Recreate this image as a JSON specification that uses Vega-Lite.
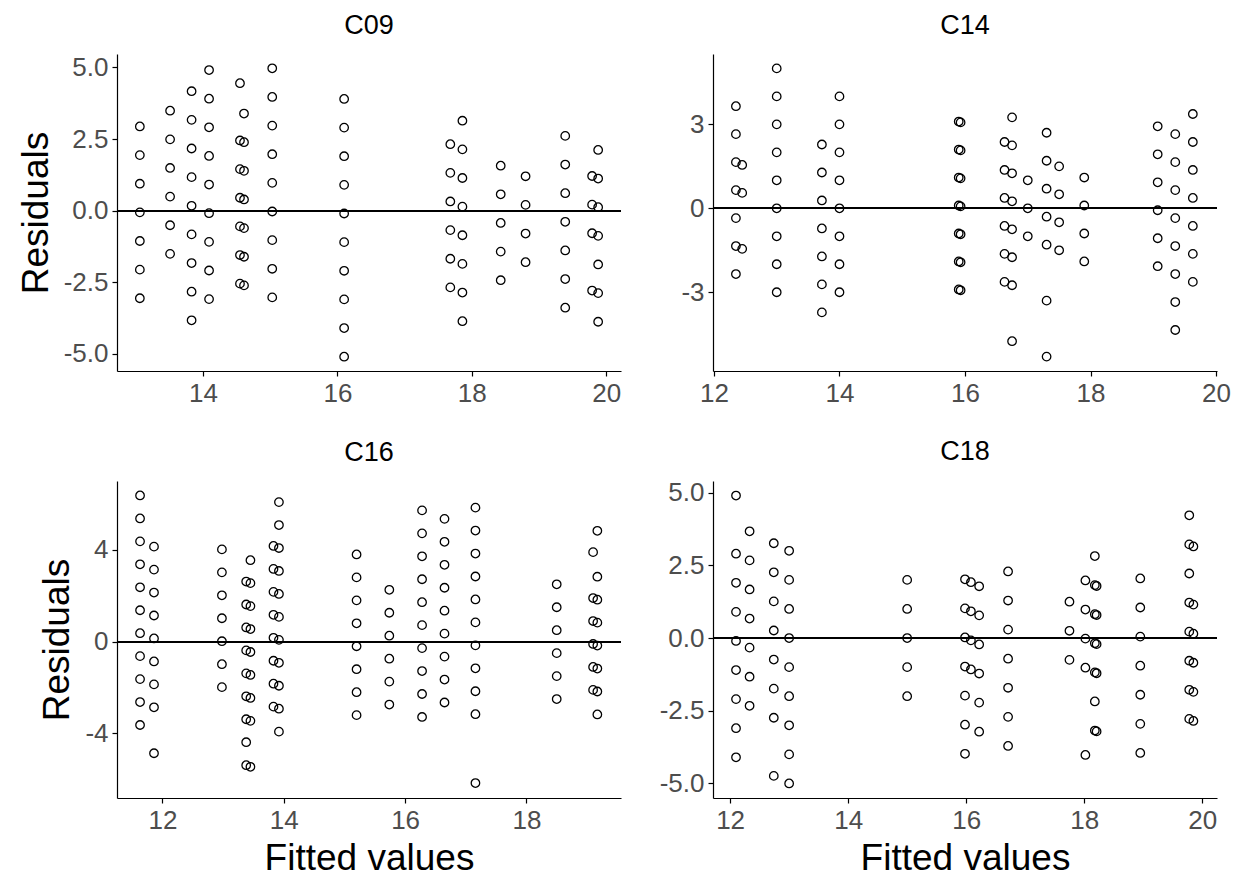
{
  "$schema": "https://vega.github.io/schema/vega-lite/v6.json",
  "background": "white",
  "padding": {"left": 17, "top": 12, "right": 5, "bottom": 5},
  "datasets": {
    "resid": [
      {"p":"C09","f":13.06,"r":2.94},{"p":"C09","f":13.06,"r":1.94},{"p":"C09","f":13.06,"r":0.94},{"p":"C09","f":13.06,"r":-0.06},{"p":"C09","f":13.06,"r":-1.06},{"p":"C09","f":13.06,"r":-2.06},{"p":"C09","f":13.06,"r":-3.06},
      {"p":"C09","f":13.51,"r":3.49},{"p":"C09","f":13.51,"r":2.49},{"p":"C09","f":13.51,"r":1.49},{"p":"C09","f":13.51,"r":0.49},{"p":"C09","f":13.51,"r":-0.51},{"p":"C09","f":13.51,"r":-1.51},
      {"p":"C09","f":13.83,"r":4.17},{"p":"C09","f":13.83,"r":3.17},{"p":"C09","f":13.83,"r":2.17},{"p":"C09","f":13.83,"r":1.17},{"p":"C09","f":13.83,"r":0.17},{"p":"C09","f":13.83,"r":-0.83},{"p":"C09","f":13.83,"r":-1.83},{"p":"C09","f":13.83,"r":-2.83},{"p":"C09","f":13.83,"r":-3.83},
      {"p":"C09","f":14.09,"r":4.91},{"p":"C09","f":14.09,"r":3.91},{"p":"C09","f":14.09,"r":2.91},{"p":"C09","f":14.09,"r":1.91},{"p":"C09","f":14.09,"r":0.91},{"p":"C09","f":14.09,"r":-0.09},{"p":"C09","f":14.09,"r":-1.09},{"p":"C09","f":14.09,"r":-2.09},{"p":"C09","f":14.09,"r":-3.09},
      {"p":"C09","f":14.55,"r":4.45},{"p":"C09","f":14.55,"r":2.45},{"p":"C09","f":14.55,"r":1.45},{"p":"C09","f":14.55,"r":0.45},{"p":"C09","f":14.55,"r":-0.55},{"p":"C09","f":14.55,"r":-1.55},{"p":"C09","f":14.55,"r":-2.55},
      {"p":"C09","f":14.61,"r":3.39},{"p":"C09","f":14.61,"r":2.39},{"p":"C09","f":14.61,"r":1.39},{"p":"C09","f":14.61,"r":0.39},{"p":"C09","f":14.61,"r":-0.61},{"p":"C09","f":14.61,"r":-1.61},{"p":"C09","f":14.61,"r":-2.61},
      {"p":"C09","f":15.03,"r":4.97},{"p":"C09","f":15.03,"r":3.97},{"p":"C09","f":15.03,"r":2.97},{"p":"C09","f":15.03,"r":1.97},{"p":"C09","f":15.03,"r":0.97},{"p":"C09","f":15.03,"r":-0.03},{"p":"C09","f":15.03,"r":-1.03},{"p":"C09","f":15.03,"r":-2.03},{"p":"C09","f":15.03,"r":-3.03},
      {"p":"C09","f":16.1,"r":3.9},{"p":"C09","f":16.1,"r":2.9},{"p":"C09","f":16.1,"r":1.9},{"p":"C09","f":16.1,"r":0.9},{"p":"C09","f":16.1,"r":-0.1},{"p":"C09","f":16.1,"r":-1.1},{"p":"C09","f":16.1,"r":-2.1},{"p":"C09","f":16.1,"r":-3.1},{"p":"C09","f":16.1,"r":-4.1},{"p":"C09","f":16.1,"r":-5.1},
      {"p":"C09","f":17.68,"r":2.32},{"p":"C09","f":17.68,"r":1.32},{"p":"C09","f":17.68,"r":0.32},{"p":"C09","f":17.68,"r":-0.68},{"p":"C09","f":17.68,"r":-1.68},{"p":"C09","f":17.68,"r":-2.68},
      {"p":"C09","f":17.86,"r":3.14},{"p":"C09","f":17.86,"r":2.14},{"p":"C09","f":17.86,"r":1.14},{"p":"C09","f":17.86,"r":0.14},{"p":"C09","f":17.86,"r":-0.86},{"p":"C09","f":17.86,"r":-1.86},{"p":"C09","f":17.86,"r":-2.86},{"p":"C09","f":17.86,"r":-3.86},
      {"p":"C09","f":18.43,"r":1.57},{"p":"C09","f":18.43,"r":0.57},{"p":"C09","f":18.43,"r":-0.43},{"p":"C09","f":18.43,"r":-1.43},{"p":"C09","f":18.43,"r":-2.43},
      {"p":"C09","f":18.8,"r":1.2},{"p":"C09","f":18.8,"r":0.2},{"p":"C09","f":18.8,"r":-0.8},{"p":"C09","f":18.8,"r":-1.8},
      {"p":"C09","f":19.39,"r":2.61},{"p":"C09","f":19.39,"r":1.61},{"p":"C09","f":19.39,"r":0.61},{"p":"C09","f":19.39,"r":-0.39},{"p":"C09","f":19.39,"r":-1.39},{"p":"C09","f":19.39,"r":-2.39},{"p":"C09","f":19.39,"r":-3.39},
      {"p":"C09","f":19.79,"r":1.21},{"p":"C09","f":19.79,"r":0.21},{"p":"C09","f":19.79,"r":-0.79},{"p":"C09","f":19.79,"r":-2.79},
      {"p":"C09","f":19.88,"r":2.12},{"p":"C09","f":19.88,"r":1.12},{"p":"C09","f":19.88,"r":0.12},{"p":"C09","f":19.88,"r":-0.88},{"p":"C09","f":19.88,"r":-1.88},{"p":"C09","f":19.88,"r":-2.88},{"p":"C09","f":19.88,"r":-3.88},

      {"p":"C14","f":12.35,"r":3.65},{"p":"C14","f":12.35,"r":2.65},{"p":"C14","f":12.35,"r":1.65},{"p":"C14","f":12.35,"r":0.65},{"p":"C14","f":12.35,"r":-0.35},{"p":"C14","f":12.35,"r":-1.35},{"p":"C14","f":12.35,"r":-2.35},
      {"p":"C14","f":12.45,"r":1.55},{"p":"C14","f":12.45,"r":0.55},{"p":"C14","f":12.45,"r":-1.45},
      {"p":"C14","f":13.0,"r":5},{"p":"C14","f":13.0,"r":4},{"p":"C14","f":13.0,"r":3},{"p":"C14","f":13.0,"r":2},{"p":"C14","f":13.0,"r":1},{"p":"C14","f":13.0,"r":0},{"p":"C14","f":13.0,"r":-1},{"p":"C14","f":13.0,"r":-2},{"p":"C14","f":13.0,"r":-3},
      {"p":"C14","f":13.72,"r":2.28},{"p":"C14","f":13.72,"r":1.28},{"p":"C14","f":13.72,"r":0.28},{"p":"C14","f":13.72,"r":-0.72},{"p":"C14","f":13.72,"r":-1.72},{"p":"C14","f":13.72,"r":-2.72},{"p":"C14","f":13.72,"r":-3.72},
      {"p":"C14","f":14.0,"r":4},{"p":"C14","f":14.0,"r":3},{"p":"C14","f":14.0,"r":2},{"p":"C14","f":14.0,"r":1},{"p":"C14","f":14.0,"r":0},{"p":"C14","f":14.0,"r":-1},{"p":"C14","f":14.0,"r":-2},{"p":"C14","f":14.0,"r":-3},
      {"p":"C14","f":15.9,"r":3.1},{"p":"C14","f":15.9,"r":2.1},{"p":"C14","f":15.9,"r":1.1},{"p":"C14","f":15.9,"r":0.1},{"p":"C14","f":15.9,"r":-0.9},{"p":"C14","f":15.9,"r":-1.9},{"p":"C14","f":15.9,"r":-2.9},
      {"p":"C14","f":15.93,"r":3.07},{"p":"C14","f":15.93,"r":2.07},{"p":"C14","f":15.93,"r":1.07},{"p":"C14","f":15.93,"r":0.07},{"p":"C14","f":15.93,"r":-0.93},{"p":"C14","f":15.93,"r":-1.93},{"p":"C14","f":15.93,"r":-2.93},
      {"p":"C14","f":16.63,"r":2.37},{"p":"C14","f":16.63,"r":1.37},{"p":"C14","f":16.63,"r":0.37},{"p":"C14","f":16.63,"r":-0.63},{"p":"C14","f":16.63,"r":-1.63},{"p":"C14","f":16.63,"r":-2.63},
      {"p":"C14","f":16.75,"r":3.25},{"p":"C14","f":16.75,"r":2.25},{"p":"C14","f":16.75,"r":1.25},{"p":"C14","f":16.75,"r":0.25},{"p":"C14","f":16.75,"r":-0.75},{"p":"C14","f":16.75,"r":-1.75},{"p":"C14","f":16.75,"r":-2.75},{"p":"C14","f":16.75,"r":-4.75},
      {"p":"C14","f":17.0,"r":1},{"p":"C14","f":17.0,"r":0},{"p":"C14","f":17.0,"r":-1},
      {"p":"C14","f":17.3,"r":2.7},{"p":"C14","f":17.3,"r":1.7},{"p":"C14","f":17.3,"r":0.7},{"p":"C14","f":17.3,"r":-0.3},{"p":"C14","f":17.3,"r":-1.3},{"p":"C14","f":17.3,"r":-3.3},{"p":"C14","f":17.3,"r":-5.3},
      {"p":"C14","f":17.5,"r":1.5},{"p":"C14","f":17.5,"r":0.5},{"p":"C14","f":17.5,"r":-0.5},{"p":"C14","f":17.5,"r":-1.5},
      {"p":"C14","f":17.9,"r":1.1},{"p":"C14","f":17.9,"r":0.1},{"p":"C14","f":17.9,"r":-0.9},{"p":"C14","f":17.9,"r":-1.9},
      {"p":"C14","f":19.07,"r":2.93},{"p":"C14","f":19.07,"r":1.93},{"p":"C14","f":19.07,"r":0.93},{"p":"C14","f":19.07,"r":-0.07},{"p":"C14","f":19.07,"r":-1.07},{"p":"C14","f":19.07,"r":-2.07},
      {"p":"C14","f":19.35,"r":2.65},{"p":"C14","f":19.35,"r":1.65},{"p":"C14","f":19.35,"r":0.65},{"p":"C14","f":19.35,"r":-0.35},{"p":"C14","f":19.35,"r":-1.35},{"p":"C14","f":19.35,"r":-2.35},{"p":"C14","f":19.35,"r":-3.35},{"p":"C14","f":19.35,"r":-4.35},
      {"p":"C14","f":19.63,"r":3.37},{"p":"C14","f":19.63,"r":2.37},{"p":"C14","f":19.63,"r":1.37},{"p":"C14","f":19.63,"r":0.37},{"p":"C14","f":19.63,"r":-0.63},{"p":"C14","f":19.63,"r":-1.63},{"p":"C14","f":19.63,"r":-2.63},

      {"p":"C16","f":11.63,"r":6.37},{"p":"C16","f":11.63,"r":5.37},{"p":"C16","f":11.63,"r":4.37},{"p":"C16","f":11.63,"r":3.37},{"p":"C16","f":11.63,"r":2.37},{"p":"C16","f":11.63,"r":1.37},{"p":"C16","f":11.63,"r":0.37},{"p":"C16","f":11.63,"r":-0.63},{"p":"C16","f":11.63,"r":-1.63},{"p":"C16","f":11.63,"r":-2.63},{"p":"C16","f":11.63,"r":-3.63},
      {"p":"C16","f":11.86,"r":4.14},{"p":"C16","f":11.86,"r":3.14},{"p":"C16","f":11.86,"r":2.14},{"p":"C16","f":11.86,"r":1.14},{"p":"C16","f":11.86,"r":0.14},{"p":"C16","f":11.86,"r":-0.86},{"p":"C16","f":11.86,"r":-1.86},{"p":"C16","f":11.86,"r":-2.86},{"p":"C16","f":11.86,"r":-4.86},
      {"p":"C16","f":12.98,"r":4.02},{"p":"C16","f":12.98,"r":3.02},{"p":"C16","f":12.98,"r":2.02},{"p":"C16","f":12.98,"r":1.02},{"p":"C16","f":12.98,"r":0.02},{"p":"C16","f":12.98,"r":-0.98},{"p":"C16","f":12.98,"r":-1.98},
      {"p":"C16","f":13.38,"r":2.62},{"p":"C16","f":13.38,"r":1.62},{"p":"C16","f":13.38,"r":0.62},{"p":"C16","f":13.38,"r":-0.38},{"p":"C16","f":13.38,"r":-1.38},{"p":"C16","f":13.38,"r":-2.38},{"p":"C16","f":13.38,"r":-3.38},{"p":"C16","f":13.38,"r":-4.38},{"p":"C16","f":13.38,"r":-5.38},
      {"p":"C16","f":13.45,"r":3.55},{"p":"C16","f":13.45,"r":2.55},{"p":"C16","f":13.45,"r":1.55},{"p":"C16","f":13.45,"r":0.55},{"p":"C16","f":13.45,"r":-0.45},{"p":"C16","f":13.45,"r":-1.45},{"p":"C16","f":13.45,"r":-2.45},{"p":"C16","f":13.45,"r":-3.45},{"p":"C16","f":13.45,"r":-5.45},
      {"p":"C16","f":13.83,"r":4.17},{"p":"C16","f":13.83,"r":3.17},{"p":"C16","f":13.83,"r":2.17},{"p":"C16","f":13.83,"r":1.17},{"p":"C16","f":13.83,"r":0.17},{"p":"C16","f":13.83,"r":-0.83},{"p":"C16","f":13.83,"r":-1.83},{"p":"C16","f":13.83,"r":-2.83},
      {"p":"C16","f":13.92,"r":6.08},{"p":"C16","f":13.92,"r":5.08},{"p":"C16","f":13.92,"r":4.08},{"p":"C16","f":13.92,"r":3.08},{"p":"C16","f":13.92,"r":2.08},{"p":"C16","f":13.92,"r":1.08},{"p":"C16","f":13.92,"r":0.08},{"p":"C16","f":13.92,"r":-0.92},{"p":"C16","f":13.92,"r":-1.92},{"p":"C16","f":13.92,"r":-2.92},{"p":"C16","f":13.92,"r":-3.92},
      {"p":"C16","f":15.2,"r":3.8},{"p":"C16","f":15.2,"r":2.8},{"p":"C16","f":15.2,"r":1.8},{"p":"C16","f":15.2,"r":0.8},{"p":"C16","f":15.2,"r":-0.2},{"p":"C16","f":15.2,"r":-1.2},{"p":"C16","f":15.2,"r":-2.2},{"p":"C16","f":15.2,"r":-3.2},
      {"p":"C16","f":15.74,"r":2.26},{"p":"C16","f":15.74,"r":1.26},{"p":"C16","f":15.74,"r":0.26},{"p":"C16","f":15.74,"r":-0.74},{"p":"C16","f":15.74,"r":-1.74},{"p":"C16","f":15.74,"r":-2.74},
      {"p":"C16","f":16.28,"r":5.72},{"p":"C16","f":16.28,"r":4.72},{"p":"C16","f":16.28,"r":3.72},{"p":"C16","f":16.28,"r":2.72},{"p":"C16","f":16.28,"r":1.72},{"p":"C16","f":16.28,"r":0.72},{"p":"C16","f":16.28,"r":-0.28},{"p":"C16","f":16.28,"r":-1.28},{"p":"C16","f":16.28,"r":-2.28},{"p":"C16","f":16.28,"r":-3.28},
      {"p":"C16","f":16.65,"r":5.35},{"p":"C16","f":16.65,"r":4.35},{"p":"C16","f":16.65,"r":3.35},{"p":"C16","f":16.65,"r":2.35},{"p":"C16","f":16.65,"r":1.35},{"p":"C16","f":16.65,"r":0.35},{"p":"C16","f":16.65,"r":-0.65},{"p":"C16","f":16.65,"r":-1.65},{"p":"C16","f":16.65,"r":-2.65},
      {"p":"C16","f":17.16,"r":5.84},{"p":"C16","f":17.16,"r":4.84},{"p":"C16","f":17.16,"r":3.84},{"p":"C16","f":17.16,"r":2.84},{"p":"C16","f":17.16,"r":1.84},{"p":"C16","f":17.16,"r":0.84},{"p":"C16","f":17.16,"r":-0.16},{"p":"C16","f":17.16,"r":-1.16},{"p":"C16","f":17.16,"r":-2.16},{"p":"C16","f":17.16,"r":-3.16},{"p":"C16","f":17.16,"r":-6.16},
      {"p":"C16","f":18.5,"r":2.5},{"p":"C16","f":18.5,"r":1.5},{"p":"C16","f":18.5,"r":0.5},{"p":"C16","f":18.5,"r":-0.5},{"p":"C16","f":18.5,"r":-1.5},{"p":"C16","f":18.5,"r":-2.5},
      {"p":"C16","f":19.1,"r":3.9},{"p":"C16","f":19.1,"r":1.9},{"p":"C16","f":19.1,"r":0.9},{"p":"C16","f":19.1,"r":-0.1},{"p":"C16","f":19.1,"r":-1.1},{"p":"C16","f":19.1,"r":-2.1},
      {"p":"C16","f":19.17,"r":4.83},{"p":"C16","f":19.17,"r":2.83},{"p":"C16","f":19.17,"r":1.83},{"p":"C16","f":19.17,"r":0.83},{"p":"C16","f":19.17,"r":-0.17},{"p":"C16","f":19.17,"r":-1.17},{"p":"C16","f":19.17,"r":-2.17},{"p":"C16","f":19.17,"r":-3.17},

      {"p":"C18","f":12.1,"r":4.9},{"p":"C18","f":12.1,"r":2.9},{"p":"C18","f":12.1,"r":1.9},{"p":"C18","f":12.1,"r":0.9},{"p":"C18","f":12.1,"r":-0.1},{"p":"C18","f":12.1,"r":-1.1},{"p":"C18","f":12.1,"r":-2.1},{"p":"C18","f":12.1,"r":-3.1},{"p":"C18","f":12.1,"r":-4.1},
      {"p":"C18","f":12.33,"r":3.67},{"p":"C18","f":12.33,"r":2.67},{"p":"C18","f":12.33,"r":1.67},{"p":"C18","f":12.33,"r":0.67},{"p":"C18","f":12.33,"r":-0.33},{"p":"C18","f":12.33,"r":-1.33},{"p":"C18","f":12.33,"r":-2.33},
      {"p":"C18","f":12.74,"r":3.26},{"p":"C18","f":12.74,"r":2.26},{"p":"C18","f":12.74,"r":1.26},{"p":"C18","f":12.74,"r":0.26},{"p":"C18","f":12.74,"r":-0.74},{"p":"C18","f":12.74,"r":-1.74},{"p":"C18","f":12.74,"r":-2.74},{"p":"C18","f":12.74,"r":-4.74},
      {"p":"C18","f":13.0,"r":3},{"p":"C18","f":13.0,"r":2},{"p":"C18","f":13.0,"r":1},{"p":"C18","f":13.0,"r":0},{"p":"C18","f":13.0,"r":-1},{"p":"C18","f":13.0,"r":-2},{"p":"C18","f":13.0,"r":-3},{"p":"C18","f":13.0,"r":-4},{"p":"C18","f":13.0,"r":-5},
      {"p":"C18","f":15.0,"r":2},{"p":"C18","f":15.0,"r":1},{"p":"C18","f":15.0,"r":0},{"p":"C18","f":15.0,"r":-1},{"p":"C18","f":15.0,"r":-2},
      {"p":"C18","f":15.98,"r":2.02},{"p":"C18","f":15.98,"r":1.02},{"p":"C18","f":15.98,"r":0.02},{"p":"C18","f":15.98,"r":-0.98},{"p":"C18","f":15.98,"r":-1.98},{"p":"C18","f":15.98,"r":-2.98},{"p":"C18","f":15.98,"r":-3.98},
      {"p":"C18","f":16.08,"r":1.92},{"p":"C18","f":16.08,"r":0.92},{"p":"C18","f":16.08,"r":-0.08},{"p":"C18","f":16.08,"r":-1.08},
      {"p":"C18","f":16.22,"r":1.78},{"p":"C18","f":16.22,"r":0.78},{"p":"C18","f":16.22,"r":-0.22},{"p":"C18","f":16.22,"r":-1.22},{"p":"C18","f":16.22,"r":-2.22},{"p":"C18","f":16.22,"r":-3.22},
      {"p":"C18","f":16.71,"r":2.29},{"p":"C18","f":16.71,"r":1.29},{"p":"C18","f":16.71,"r":0.29},{"p":"C18","f":16.71,"r":-0.71},{"p":"C18","f":16.71,"r":-1.71},{"p":"C18","f":16.71,"r":-2.71},{"p":"C18","f":16.71,"r":-3.71},
      {"p":"C18","f":17.75,"r":1.25},{"p":"C18","f":17.75,"r":0.25},{"p":"C18","f":17.75,"r":-0.75},
      {"p":"C18","f":18.02,"r":1.98},{"p":"C18","f":18.02,"r":0.98},{"p":"C18","f":18.02,"r":-0.02},{"p":"C18","f":18.02,"r":-1.02},{"p":"C18","f":18.02,"r":-4.02},
      {"p":"C18","f":18.18,"r":2.82},{"p":"C18","f":18.18,"r":1.82},{"p":"C18","f":18.18,"r":0.82},{"p":"C18","f":18.18,"r":-0.18},{"p":"C18","f":18.18,"r":-1.18},{"p":"C18","f":18.18,"r":-2.18},{"p":"C18","f":18.18,"r":-3.18},
      {"p":"C18","f":18.21,"r":1.79},{"p":"C18","f":18.21,"r":0.79},{"p":"C18","f":18.21,"r":-0.21},{"p":"C18","f":18.21,"r":-1.21},{"p":"C18","f":18.21,"r":-3.21},
      {"p":"C18","f":18.95,"r":2.05},{"p":"C18","f":18.95,"r":1.05},{"p":"C18","f":18.95,"r":0.05},{"p":"C18","f":18.95,"r":-0.95},{"p":"C18","f":18.95,"r":-1.95},{"p":"C18","f":18.95,"r":-2.95},{"p":"C18","f":18.95,"r":-3.95},
      {"p":"C18","f":19.78,"r":4.22},{"p":"C18","f":19.78,"r":3.22},{"p":"C18","f":19.78,"r":2.22},{"p":"C18","f":19.78,"r":1.22},{"p":"C18","f":19.78,"r":0.22},{"p":"C18","f":19.78,"r":-0.78},{"p":"C18","f":19.78,"r":-1.78},{"p":"C18","f":19.78,"r":-2.78},
      {"p":"C18","f":19.85,"r":3.15},{"p":"C18","f":19.85,"r":1.15},{"p":"C18","f":19.85,"r":0.15},{"p":"C18","f":19.85,"r":-0.85},{"p":"C18","f":19.85,"r":-1.85},{"p":"C18","f":19.85,"r":-2.85}
    ]
  },
  "data": {"name": "resid"},
  "columns": 2,
  "bounds": "flush",
  "spacing": {"row": 110, "column": 92},
  "concat": [
    {
      "width": 504, "height": 317,
      "title": "C09",
      "transform": [{"filter": "datum.p === 'C09'"}],
      "layer": [
        {
          "mark": {"type": "point", "shape": "circle", "filled": false, "color": "black", "size": 72, "strokeWidth": 1.3, "opacity": 1},
          "encoding": {
            "x": {"field": "f", "type": "quantitative", "scale": {"domain": [12.72, 20.22], "nice": false, "zero": false}, "axis": {"values": [14, 16, 18, 20], "format": "d", "title": null}},
            "y": {"field": "r", "type": "quantitative", "scale": {"domain": [-5.6, 5.47], "nice": false, "zero": false}, "axis": {"values": [-5, -2.5, 0, 2.5, 5], "labelExpr": "(datum.value < 0 ? '-' : '') + format(abs(datum.value), '.1f')", "title": "Residuals"}}
          }
        },
        {
          "mark": {"type": "rule", "color": "black", "strokeWidth": 1.2},
          "encoding": {"y": {"datum": 0, "type": "quantitative"}}
        }
      ]
    },
    {
      "width": 504, "height": 317,
      "title": "C14",
      "transform": [{"filter": "datum.p === 'C14'"}],
      "layer": [
        {
          "mark": {"type": "point", "shape": "circle", "filled": false, "color": "black", "size": 72, "strokeWidth": 1.3, "opacity": 1},
          "encoding": {
            "x": {"field": "f", "type": "quantitative", "scale": {"domain": [11.985, 20.015], "nice": false, "zero": false}, "axis": {"values": [12, 14, 16, 18, 20], "format": "d", "title": null}},
            "y": {"field": "r", "type": "quantitative", "scale": {"domain": [-5.815, 5.515], "nice": false, "zero": false}, "axis": {"values": [-3, 0, 3], "labelExpr": "(datum.value < 0 ? '-' : '') + format(abs(datum.value), 'd')", "title": null}}
          }
        },
        {
          "mark": {"type": "rule", "color": "black", "strokeWidth": 1.2},
          "encoding": {"y": {"datum": 0, "type": "quantitative"}}
        }
      ]
    },
    {
      "width": 504, "height": 317,
      "title": "C16",
      "transform": [{"filter": "datum.p === 'C16'"}],
      "layer": [
        {
          "mark": {"type": "point", "shape": "circle", "filled": false, "color": "black", "size": 72, "strokeWidth": 1.3, "opacity": 1},
          "encoding": {
            "x": {"field": "f", "type": "quantitative", "scale": {"domain": [11.25, 19.56], "nice": false, "zero": false}, "axis": {"values": [12, 14, 16, 18], "format": "d", "title": "Fitted values"}},
            "y": {"field": "r", "type": "quantitative", "scale": {"domain": [-6.81, 7.0], "nice": false, "zero": false}, "axis": {"values": [-4, 0, 4], "labelExpr": "(datum.value < 0 ? '-' : '') + format(abs(datum.value), 'd')", "title": "Residuals"}}
          }
        },
        {
          "mark": {"type": "rule", "color": "black", "strokeWidth": 1.2},
          "encoding": {"y": {"datum": 0, "type": "quantitative"}}
        }
      ]
    },
    {
      "width": 504, "height": 317,
      "title": "C18",
      "transform": [{"filter": "datum.p === 'C18'"}],
      "layer": [
        {
          "mark": {"type": "point", "shape": "circle", "filled": false, "color": "black", "size": 72, "strokeWidth": 1.3, "opacity": 1},
          "encoding": {
            "x": {"field": "f", "type": "quantitative", "scale": {"domain": [11.71, 20.25], "nice": false, "zero": false}, "axis": {"values": [12, 14, 16, 18, 20], "format": "d", "title": "Fitted values"}},
            "y": {"field": "r", "type": "quantitative", "scale": {"domain": [-5.5, 5.4], "nice": false, "zero": false}, "axis": {"values": [-5, -2.5, 0, 2.5, 5], "labelExpr": "(datum.value < 0 ? '-' : '') + format(abs(datum.value), '.1f')", "title": null}}
          }
        },
        {
          "mark": {"type": "rule", "color": "black", "strokeWidth": 1.2},
          "encoding": {"y": {"datum": 0, "type": "quantitative"}}
        }
      ]
    }
  ],
  "config": {
    "font": "Liberation Sans",
    "view": {"stroke": null},
    "axis": {
      "grid": false,
      "domainColor": "black", "domainWidth": 1.2,
      "tickColor": "black", "tickWidth": 1.2, "tickSize": 5,
      "labelColor": "#4D4D4D", "labelFont": "Liberation Sans", "labelFontSize": 26, "labelPadding": 4,
      "labelFlush": false, "labelOverlap": false, "labelBound": false,
      "titleFont": "Liberation Sans", "titleFontSize": 37, "titleFontWeight": "normal", "titleColor": "black"
    },
    "axisY": {"titlePadding": 8},
    "axisX": {"titlePadding": 7},
    "title": {"font": "Liberation Sans", "fontSize": 27, "fontWeight": "normal", "color": "black", "anchor": "middle", "offset": 14}
  }
}
